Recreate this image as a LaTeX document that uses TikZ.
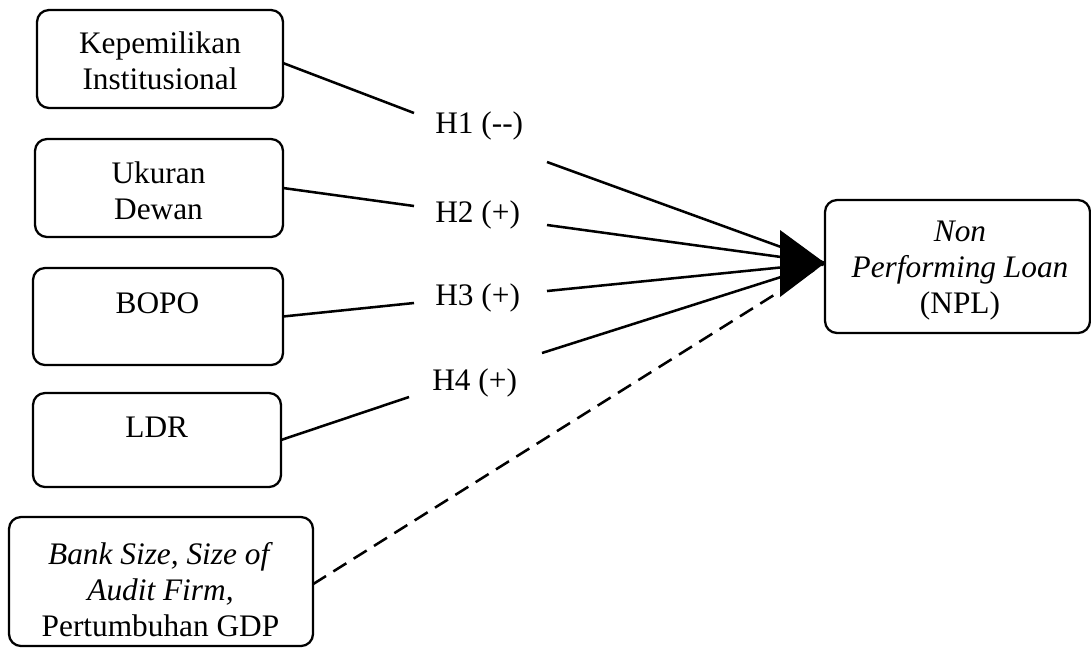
\documentclass[tikz,border=0pt]{standalone}
\usepackage{fontspec}
\setmainfont{Liberation Serif}
\begin{document}
\begin{tikzpicture}[x=0.75pt,y=-0.75pt,
  boxst/.style={draw, line width=1.7pt, rounded corners=9pt, inner sep=0pt, outer sep=0pt},
  txt/.style={font=\fontsize{23.5}{27}\selectfont, align=center, inner sep=0pt},
  hlab/.style={font=\fontsize{23.5}{27}\selectfont, inner sep=0pt, anchor=base west},
  conn/.style={line width=1.9pt},
  dconn/.style={line width=1.9pt, dash pattern=on 11.5pt off 6.5pt}]
\useasboundingbox (0,0) rectangle (1091,647);
% boxes
\node[boxst, minimum width=184.5pt, minimum height=73.5pt] (b1) at (160,59) {};
\node[boxst, minimum width=186pt, minimum height=73.5pt] (b2) at (159,188) {};
\node[boxst, minimum width=187.5pt, minimum height=72.75pt] (b3) at (158,316.5) {};
\node[boxst, minimum width=186pt, minimum height=70.5pt] (b4) at (157,440) {};
\node[boxst, minimum width=228pt, minimum height=96.75pt] (b5) at (161,581.5) {};
\node[boxst, minimum width=198.75pt, minimum height=99.75pt] (npl) at (957.5,266.5) {};
% texts
\node[txt] (t1) at (160,64.3) {\strut Kepemilikan\\Institusional\strut};
\node[txt] (t2) at (158.5,194.3) {\strut Ukuran\\Dewan\strut};
\node[txt] (t3) at (157.5,305.8) {\strut BOPO\strut};
\node[txt] (t4) at (156.7,429.8) {\strut LDR\strut};
\node[txt] (t5) at (160.5,592.8) {\strut\textit{Bank Size, Size of}\\\textit{Audit Firm,}\\Pertumbuhan GDP\strut};
\node[txt] (t6) at (960,270.3) {\strut\textit{Non}\\\textit{Performing Loan}\\(NPL)\strut};
% hypothesis labels
\node[hlab] (h1) at (435,133) {H1 (\mbox{-}\mbox{-})};
\node[hlab] (h2) at (435,222) {H2 (+)};
\node[hlab] (h3) at (435,305) {H3 (+)};
\node[hlab] (h4) at (432,390) {H4 (+)};
% connector coordinates
\coordinate (h1l) at (414,113);
\coordinate (h2l) at (414,206);
\coordinate (h3l) at (414,303);
\coordinate (h4l) at (409,397);
\coordinate (h1r) at (547,162);
\coordinate (h2r) at (547,225);
\coordinate (h3r) at (547,291);
\coordinate (h4r) at (542,353);
\coordinate (tip) at (825,263);
% connectors
\draw[conn] ([yshift=-3pt]b1.east) -- (h1l);
\draw[conn] (b2.east) -- (h2l);
\draw[conn] (b3.east) -- (h3l);
\draw[conn] (b4.east) -- (h4l);
\draw[conn] (h1r) -- (tip);
\draw[conn] (h2r) -- (tip);
\draw[conn] (h3r) -- (tip);
\draw[conn] (h4r) -- (tip);
\draw[dconn] ([yshift=-2pt]b5.east) -- (tip);
% arrowhead
\fill (780,230) -- (tip) -- (780,297) -- cycle;
\end{tikzpicture}
\end{document}
